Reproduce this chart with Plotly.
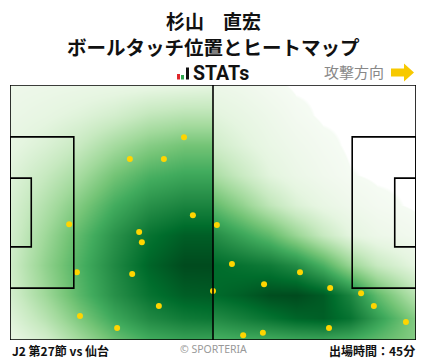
import plotly.graph_objects as go

# ---- data (pitch metres: x 0-105 towards attack, y 0-68 from top) ----
touch_x = [45.0, 31.0, 39.8, 47.3, 53.5, 15.3, 33.4, 34.1, 17.3, 31.6, 38.5, 18.1,
           27.7, 52.5, 57.4, 75.0, 65.7, 82.8, 90.8, 94.1, 102.4, 60.3, 65.4, 82.5]
touch_y = [13.9, 19.7, 19.7, 34.7, 37.3, 37.1, 39.2, 41.9, 49.9, 50.4, 58.9, 61.6,
           64.8, 54.9, 47.7, 49.9, 53.1, 54.1, 55.5, 58.9, 63.2, 66.7, 66.1, 64.8]

# heat intensity; the two halves are drawn separately
heat_x_left = [0, 9, 18, 27, 36, 45, 52.4]
heat_x_right = [52.6, 60, 67, 74, 81, 88, 95, 105]
heat_y = [0, 8, 16, 24, 32, 40, 48, 56, 62, 68]
heat_left = [
    [0.06, 0.07, 0.08, 0.09, 0.10, 0.11, 0.12],
    [0.08, 0.11, 0.15, 0.20, 0.27, 0.30, 0.30],
    [0.11, 0.17, 0.25, 0.36, 0.45, 0.50, 0.50],
    [0.15, 0.25, 0.36, 0.50, 0.60, 0.64, 0.64],
    [0.18, 0.32, 0.47, 0.62, 0.73, 0.78, 0.78],
    [0.20, 0.38, 0.56, 0.72, 0.85, 0.92, 0.92],
    [0.22, 0.42, 0.60, 0.76, 0.90, 0.98, 0.98],
    [0.20, 0.38, 0.57, 0.73, 0.85, 0.92, 0.93],
    [0.15, 0.30, 0.48, 0.64, 0.76, 0.82, 0.84],
    [0.10, 0.20, 0.37, 0.52, 0.62, 0.66, 0.66],
]
heat_right = [
    [0.07, 0.05, 0.02, 0.00, 0.00, 0.00, 0.00, 0.00],
    [0.14, 0.10, 0.06, 0.02, 0.00, 0.00, 0.00, 0.00],
    [0.22, 0.15, 0.09, 0.05, 0.02, 0.00, 0.00, 0.00],
    [0.35, 0.24, 0.14, 0.08, 0.04, 0.01, 0.00, 0.00],
    [0.55, 0.42, 0.28, 0.17, 0.10, 0.05, 0.02, 0.00],
    [0.75, 0.65, 0.55, 0.40, 0.25, 0.13, 0.07, 0.03],
    [0.88, 0.85, 0.82, 0.75, 0.60, 0.40, 0.25, 0.12],
    [0.88, 0.92, 0.97, 0.98, 0.93, 0.78, 0.55, 0.30],
    [0.75, 0.80, 0.85, 0.90, 0.92, 0.85, 0.68, 0.45],
    [0.60, 0.62, 0.62, 0.64, 0.65, 0.62, 0.55, 0.45],
]

title1 = "杉山　直宏"
title2 = "ボールタッチ位置とヒートマップ"
footer_left = "J2 第27節 vs 仙台"
footer_mid = "© SPORTERIA"
footer_right = "出場時間：45分"
attack_label = "攻撃方向"
brand = "STATs"

PITCH_L, PITCH_W = 105, 68

greens = [
    [0.0, "#ffffff"], [0.006, "#ffffff"], [0.008, "#f5fbf3"], [0.03, "#f2f9ef"],
    [0.125, "#e5f5e0"], [0.25, "#c7e9c0"], [0.375, "#a1d99b"], [0.5, "#74c476"],
    [0.625, "#41ab5d"], [0.75, "#238b45"], [0.875, "#006d2c"], [1.0, "#00441b"],
]

# combine halves; edge rows/columns repeated just outside the pitch so the
# smoothed image reaches the touchlines without edge fall-off
heat_x = [-8] + heat_x_left + heat_x_right + [PITCH_L + 8]
rows = [[l[0]] + l + r + [r[-1]] for l, r in zip(heat_left, heat_right)]
heat_z = [rows[0]] + rows + [rows[-1]]
heat_yp = [-8] + heat_y + [PITCH_W + 8]

fig = go.Figure()
fig.add_trace(go.Heatmap(x=heat_x, y=heat_yp, z=heat_z, zsmooth="best",
                         colorscale=greens, zmin=0, zmax=1, showscale=False,
                         hoverinfo="skip"))
fig.add_trace(go.Scatter(x=touch_x, y=touch_y, mode="markers",
                         marker=dict(color="#FFD500", size=6, line=dict(width=0)),
                         hoverinfo="skip", showlegend=False))

line = dict(color="black", width=1.6)
shapes = [
    dict(type="rect", x0=0, x1=PITCH_L, y0=0, y1=PITCH_W, line=line),
    dict(type="line", x0=PITCH_L / 2, x1=PITCH_L / 2, y0=0, y1=PITCH_W, line=line),
    dict(type="rect", x0=0, x1=16.5, y0=13.84, y1=54.16, line=line),
    dict(type="rect", x0=0, x1=5.5, y0=24.84, y1=43.16, line=line),
    dict(type="rect", x0=PITCH_L - 16.5, x1=PITCH_L, y0=13.84, y1=54.16, line=line),
    dict(type="rect", x0=PITCH_L - 5.5, x1=PITCH_L, y0=24.84, y1=43.16, line=line),
]

W, H = 428, 359
ML, MR, MT, MB = 10, 12, 85, 19
PW, PH = W - ML - MR, H - MT - MB


def px(x):
    return (x - ML) / PW


def py(y):
    return (H - MB - y) / PH


# STATs logo bars
for x0, x1, y0, col in [(177, 180, 74, "#e0262b"), (181, 184, 75, "#2fa84f"), (186, 189, 67.5, "#111111")]:
    shapes.append(dict(type="rect", xref="paper", yref="paper", x0=px(x0), x1=px(x1),
                       y0=py(79.5), y1=py(y0), fillcolor=col, line=dict(width=0)))
# attack direction arrow
pts = [(391, 68.5), (404, 68.5), (404, 63.5), (414, 72.5), (404, 81.5), (404, 76.5), (391, 76.5)]
path = "M " + " L ".join(f"{px(a):.5f},{py(b):.5f}" for a, b in pts) + " Z"
shapes.append(dict(type="path", xref="paper", yref="paper", path=path,
                   fillcolor="#F7C900", line=dict(width=0)))

font_jp = "Noto Sans CJK JP"
ann = [
    dict(text=f"<b>{title1}</b>", x=0.5, y=py(20.5), font=dict(size=19, color="#111")),
    dict(text=f"<b>{title2}</b>", x=0.5, y=py(46), font=dict(size=19.5, color="#111")),
    dict(text=f"<b>{brand}</b>", x=px(190.5), y=py(73.5), xanchor="left",
         font=dict(size=19.5, color="#111", family="Roboto")),
    dict(text=attack_label, x=px(386), y=py(72), xanchor="right",
         font=dict(size=15, color="#888")),
    dict(text=f"<b>{footer_left}</b>", x=px(10), y=py(350), xanchor="left",
         font=dict(size=12, color="#111")),
    dict(text=footer_mid, x=px(213), y=py(349), font=dict(size=10.5, color="#999", family="Noto Sans")),
    dict(text=f"<b>{footer_right}</b>", x=px(416.5), y=py(350), xanchor="right",
         font=dict(size=12, color="#111")),
]
for a in ann:
    a.update(xref="paper", yref="paper", showarrow=False)
    a.setdefault("xanchor", "center")
    a["yanchor"] = "middle"
    a["font"].setdefault("family", font_jp)

fig.update_layout(
    width=W, height=H, margin=dict(l=ML, r=MR, t=MT, b=MB),
    paper_bgcolor="white", plot_bgcolor="white",
    xaxis=dict(range=[0, PITCH_L], visible=False, fixedrange=True),
    yaxis=dict(range=[PITCH_W, 0], visible=False, fixedrange=True),
    shapes=shapes, annotations=ann, showlegend=False,
    font=dict(family=font_jp),
)

fig.write_html("out.html", config={"displayModeBar": False},
               post_script="document.body.style.margin='0';document.body.style.overflow='hidden';")
